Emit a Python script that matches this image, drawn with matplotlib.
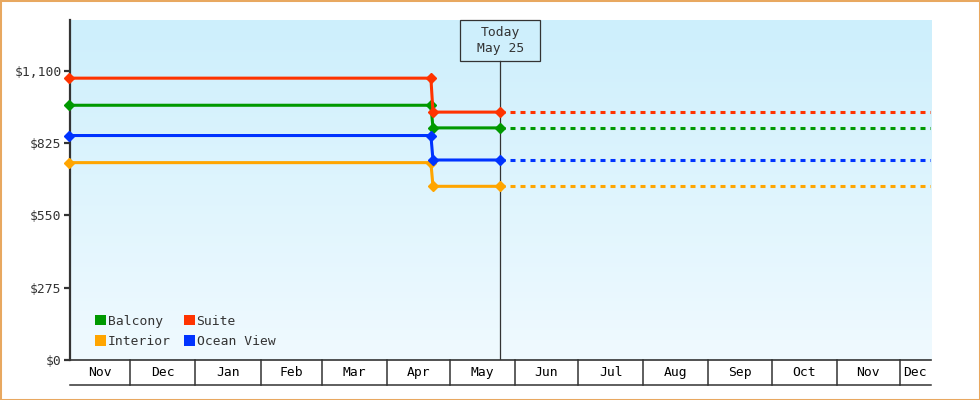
import matplotlib
matplotlib.use('Agg')
import matplotlib.pyplot as plt
import matplotlib.dates as mdates
import matplotlib.transforms as mtransforms
from matplotlib.patches import Rectangle, Patch
import numpy as np
import datetime as dt

plt.rcParams['font.family'] = ['DejaVu Sans Mono']
plt.rcParams['font.size'] = 9.4
plt.rcParams['text.parse_math'] = False
plt.rcParams['lines.scale_dashes'] = False

# ---- data ----
dates = ['2023-11-02', '2024-04-22', '2024-04-23', '2024-05-25']
range_start = '2023-11-02'
range_end = '2024-12-16'
today = '2024-05-25'
today_label = 'Today\nMay 25'

categories = ['Balcony', 'Interior', 'Suite', 'Ocean View']
colors = ['#009900', '#ffa500', '#ff3300', '#0033ff']
balcony = [968, 968, 882, 882]
interior = [750, 750, 660, 660]
suite = [1071, 1071, 942, 942]
ocean_view = [853, 853, 760, 760]
series = [balcony, interior, suite, ocean_view]

y_ticks = [0, 275, 550, 825, 1100]
y_labels = ['$0', '$275', '$550', '$825', '$1,100']
y_max = 1292

month_starts = ['2023-11-01', '2023-12-01', '2024-01-01', '2024-02-01', '2024-03-01',
                '2024-04-01', '2024-05-01', '2024-06-01', '2024-07-01', '2024-08-01',
                '2024-09-01', '2024-10-01', '2024-11-01', '2024-12-01', '2025-01-01']
month_labels = ['Nov', 'Dec', 'Jan', 'Feb', 'Mar', 'Apr', 'May', 'Jun', 'Jul',
                'Aug', 'Sep', 'Oct', 'Nov', 'Dec']

# ---- figure ----
def d(s):
    return mdates.date2num(dt.datetime.strptime(s, '%Y-%m-%d'))

x = [d(s) for s in dates]
x0, x1 = d(range_start) + 0.4, d(range_end) - 0.2
xt = d(today)

fig = plt.figure(figsize=(9.8, 4), dpi=100)
fig.patch.set_facecolor('white')
ax = fig.add_axes([70 / 980, 40 / 400, 861 / 980, 340 / 400])

# gradient background
top = np.array([205, 239, 252]) / 255
bot = np.array([240, 250, 255]) / 255
t = np.linspace(0, 1, 256)[:, None]
grad = (top[None, :] * (1 - t) + bot[None, :] * t)[:, None, :]
ax.imshow(grad, extent=[0, 1, 0, 1], transform=ax.transAxes, aspect='auto', zorder=0)

axis_col = '#333333'
# today line and box
trans = mtransforms.blended_transform_factory(ax.transData, ax.transAxes)
box_bottom = 1 - 41 / 340
ax.plot([xt, xt], [0, box_bottom], transform=trans, color=axis_col, lw=0.9, zorder=2)
half_w = 40 / (861 / (x1 - x0))
ax.add_patch(Rectangle((xt - half_w, box_bottom), 2 * half_w, 1 - box_bottom,
                       transform=trans, fill=False, edgecolor=axis_col, lw=0.9, zorder=2,
                       clip_on=False))
ax.text(xt, (1 + box_bottom) / 2, today_label, transform=trans, ha='center', va='center',
        color=axis_col, linespacing=1.35, zorder=3)

# series
for vals, c in zip(series, colors):
    ax.plot(x, vals, color=c, lw=2.2, marker='D', markersize=5.4, zorder=4,
            solid_capstyle='butt', solid_joinstyle='miter', clip_on=False)
    ax.plot([x[-1], x1], [vals[-1], vals[-1]], color=c, lw=2.2, dashes=(3.6, 3.6),
            dash_capstyle='butt', zorder=3)

ax.set_xlim(x0, x1)
ax.set_ylim(0, y_max)

# axes styling
for s in ['top', 'right']:
    ax.spines[s].set_visible(False)
ax.spines['left'].set_color(axis_col)
ax.spines['left'].set_linewidth(1.6)
ax.spines['left'].set_zorder(3.5)
ax.spines['bottom'].set_color(axis_col)
ax.spines['bottom'].set_linewidth(1.2)
ax.set_yticks(y_ticks)
ax.set_yticklabels(y_labels, color=axis_col)
ax.tick_params(axis='y', length=4, width=1.6, color=axis_col, pad=2)
ax.set_xticks([])

# month boxes
box_h = 25 / 340
ms = [d(s) for s in month_starts]
for i, lab in enumerate(month_labels):
    a, b = max(ms[i], x0), min(ms[i + 1], x1)
    if i > 0:
        ax.plot([ms[i], ms[i]], [0, -box_h], transform=trans, color=axis_col, lw=1.1,
                clip_on=False)
    ax.text((a + b) / 2, -box_h / 2, lab, transform=trans, ha='center', va='center',
            color='black', clip_on=False)
ax.plot([x0, x1], [-box_h, -box_h], transform=trans, color=axis_col, lw=1.1, clip_on=False)

# legend
handles = [Patch(facecolor=c, edgecolor='none', label=n) for n, c in zip(categories, colors)]
leg = ax.legend(handles=handles, ncol=2, loc='lower left', bbox_to_anchor=(0.017, 0.004),
                frameon=False, handlelength=0.85, handleheight=0.85, handletextpad=0.15,
                columnspacing=0.95, labelspacing=0.58, borderpad=0.3)
for txt in leg.get_texts():
    txt.set_color(axis_col)

# figure border
fig.patches.append(Rectangle((0, 0), 1, 1, transform=fig.transFigure, fill=False,
                             edgecolor='#e8a860', lw=2.2))

fig.savefig('out.png', dpi=100)
